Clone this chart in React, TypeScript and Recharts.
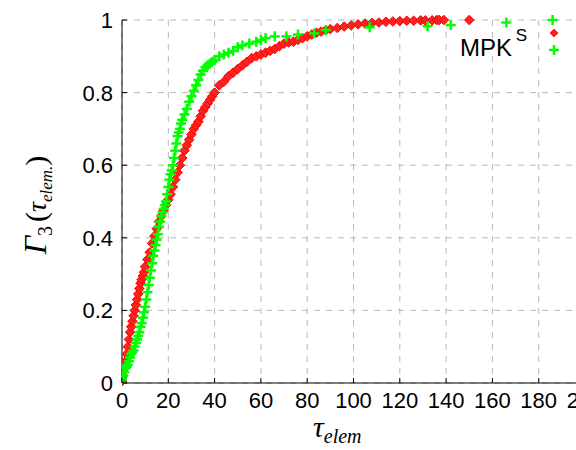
import { ScatterChart, Scatter, XAxis, YAxis, CartesianGrid, Legend } from 'recharts';

const sX = [
  0, 0.5, 1, 1.5, 2, 2.5, 3, 3.5, 4, 4.5, 5, 5.5, 6, 6.5, 7, 7.5, 8, 8.5, 9, 9.5, 10, 11, 12, 13, 14, 15, 16, 17, 18,
  19, 20, 21, 22, 23, 24, 25, 26, 27, 28, 29, 30, 31, 32, 33, 34, 35, 36, 37, 38, 39, 40, 42, 44, 46, 48, 50, 52, 54,
  56, 58, 60, 62, 64, 66, 68, 70, 72, 74, 76, 78, 80, 82, 84, 86, 88, 90, 93, 96, 99, 102, 105, 108, 111, 114, 117,
  120, 123, 126, 129, 131, 134, 136, 137, 139, 150,
];
const sY = [
  0.005, 0.02, 0.04, 0.06, 0.08, 0.1, 0.12, 0.14, 0.155, 0.17, 0.185, 0.2, 0.215, 0.23, 0.245, 0.26, 0.275, 0.285,
  0.295, 0.305, 0.32, 0.34, 0.36, 0.385, 0.405, 0.425, 0.445, 0.46, 0.475, 0.49, 0.505, 0.52, 0.54, 0.56, 0.58, 0.6,
  0.62, 0.64, 0.655, 0.67, 0.685, 0.7, 0.71, 0.72, 0.735, 0.75, 0.76, 0.77, 0.78, 0.79, 0.8, 0.82, 0.83, 0.845, 0.855,
  0.865, 0.875, 0.885, 0.895, 0.9, 0.905, 0.91, 0.915, 0.92, 0.928, 0.935, 0.938, 0.94, 0.945, 0.95, 0.955, 0.96,
  0.965, 0.968, 0.972, 0.975, 0.978, 0.982, 0.985, 0.988, 0.99, 0.992, 0.993, 0.995, 0.996, 0.997, 0.998, 0.998,
  0.999, 0.999, 0.999, 1, 1, 1, 1,
];

const mpkX = [
  0, 0.5, 1, 1.5, 2, 2.5, 3, 3.5, 4, 4.5, 5, 5.5, 6, 6.5, 7, 7.5, 8, 8.5, 9, 9.5, 10, 10.5, 11, 11.5, 12, 12.5, 13,
  13.5, 14, 14.5, 15, 15.5, 16, 16.5, 17, 17.5, 18, 18.5, 19, 19.5, 20, 20.5, 21, 21.5, 22, 22.5, 23, 23.5, 24, 24.5,
  25, 25.5, 26, 27, 28, 29, 30, 31, 32, 33, 34, 35, 36, 37, 38, 39, 40, 42, 44, 46, 48, 50, 52, 55, 58, 60, 62, 66,
  71, 76, 83, 88, 107, 132, 142, 166, 186,
];
const mpkY = [
  0.01, 0.02, 0.03, 0.04, 0.045, 0.05, 0.06, 0.07, 0.08, 0.085, 0.09, 0.1, 0.11, 0.12, 0.13, 0.14, 0.155, 0.165, 0.18,
  0.195, 0.21, 0.23, 0.25, 0.27, 0.29, 0.31, 0.33, 0.35, 0.365, 0.38, 0.395, 0.41, 0.43, 0.445, 0.46, 0.47, 0.48, 0.49,
  0.5, 0.52, 0.54, 0.56, 0.575, 0.585, 0.6, 0.62, 0.64, 0.66, 0.68, 0.69, 0.7, 0.715, 0.725, 0.74, 0.755, 0.775, 0.79,
  0.805, 0.82, 0.835, 0.85, 0.86, 0.87, 0.875, 0.88, 0.885, 0.89, 0.9, 0.905, 0.91, 0.915, 0.925, 0.93, 0.935, 0.94,
  0.945, 0.95, 0.955, 0.955, 0.96, 0.963, 0.972, 0.98, 0.983, 0.986, 0.993, 1,
];

const xTicks = [0, 20, 40, 60, 80, 100, 120, 140, 160, 180, 200];
const yTicks = [0, 0.2, 0.4, 0.6, 0.8, 1];
const seriesNames = ['S', 'MPK'];

const sData = sX.map((x, i) => ({ x, y: sY[i] }));
const mpkData = mpkX.map((x, i) => ({ x, y: mpkY[i] }));

const tickFont = { fontFamily: '"Liberation Sans", Arial, sans-serif', fontSize: 22, fill: '#000' };
const serif = '"Liberation Serif", "DejaVu Serif", serif';

const Diamond = ({ cx, cy, r = 4.8 }: any) => (
  <polygon
    points={`${cx},${cy - r} ${cx + r},${cy} ${cx},${cy + r} ${cx - r},${cy}`}
    fill="#ff2020"
    stroke="#ff0000"
    strokeWidth={1}
  />
);

const Plus = ({ cx, cy }: any) => {
  const r = 5;
  return (
    <g stroke="#00ff00" strokeWidth={2.5}>
      <line x1={cx - r} x2={cx + r} y1={cy} y2={cy} />
      <line x1={cx} x2={cx} y1={cy - r} y2={cy + r} />
    </g>
  );
};

const XTick = ({ x, y, payload }: any) => (
  <g>
    <line x1={x} x2={x} y1={y} y2={y - 5} stroke="#000" />
    <text x={x} y={y + 25} textAnchor="middle" {...tickFont}>
      {payload.value}
    </text>
  </g>
);

const TopTick = ({ x, y }: any) => <line x1={x} x2={x} y1={y} y2={y + 5} stroke="#000" />;

const YTick = ({ x, y, payload }: any) => {
  const v = payload.value;
  const label = v === 0 || v === 1 ? String(v) : v.toFixed(1);
  return (
    <g>
      <line x1={x} x2={x + 5} y1={y} y2={y} stroke="#000" />
      <text x={x - 9} y={y + 8} textAnchor="end" {...tickFont}>
        {label}
      </text>
    </g>
  );
};

const YTitle = () => (
  <text transform="translate(46,205) rotate(-90)" textAnchor="middle" fontFamily={serif} fill="#000">
    <tspan fontStyle="italic" fontSize={32}>
      Γ
    </tspan>
    <tspan fontSize={20} dy={6}>
      3
    </tspan>
    <tspan fontSize={30} dy={-6} dx={4}>
      (
    </tspan>
    <tspan fontStyle="italic" fontSize={28}>
      τ
    </tspan>
    <tspan fontStyle="italic" fontSize={17} dy={6}>
      elem.
    </tspan>
    <tspan fontSize={30} dy={-6}>
      )
    </tspan>
  </text>
);

const XTitle = () => (
  <text x={313} y={437} fontFamily={serif} fill="#000">
    <tspan fontStyle="italic" fontSize={30}>
      τ
    </tspan>
    <tspan fontStyle="italic" fontSize={20} dy={6}>
      elem
    </tspan>
  </text>
);

const LegendBox = () => (
  <svg width={150} height={50}>
    <text x={87} y={20} textAnchor="end" fontFamily={tickFont.fontFamily} fontSize={17}>
      {seriesNames[0]}
    </text>
    <text x={72} y={35} textAnchor="end" fontFamily={tickFont.fontFamily} fontSize={24}>
      {seriesNames[1]}
    </text>
    <Diamond cx={114} cy={12} r={3.8} />
    <Plus cx={114} cy={29} />
  </svg>
);

export default function App() {
  return (
    <div style={{ position: 'absolute', left: 0, top: 0, width: 576, height: 450, overflow: 'hidden', background: '#fff' }}>
      <ScatterChart width={600} height={450} margin={{ top: 20, right: 15, bottom: 0, left: 0 }}>
        <CartesianGrid strokeDasharray="6 6" stroke="#b8b8b8" />
        <XAxis
          type="number"
          dataKey="x"
          domain={[0, 200]}
          ticks={xTicks}
          allowDataOverflow
          height={67}
          tickSize={0}
          tickMargin={0}
          tickLine={false}
          tick={<XTick />}
          axisLine={{ stroke: '#000' }}
          label={{ content: () => <XTitle /> }}
        />
        <XAxis
          xAxisId="top"
          orientation="top"
          type="number"
          domain={[0, 200]}
          ticks={xTicks}
          height={0}
          tickSize={0}
          tickMargin={0}
          tickLine={false}
          tick={<TopTick />}
          axisLine={{ stroke: '#000' }}
        />
        <YAxis
          type="number"
          dataKey="y"
          domain={[0, 1]}
          ticks={yTicks}
          width={122}
          tickSize={0}
          tickMargin={0}
          tickLine={false}
          tick={<YTick />}
          axisLine={{ stroke: '#000' }}
          label={{ content: () => <YTitle /> }}
        />
        <Legend
          layout="horizontal"
          verticalAlign="middle"
          align="center"
          content={() => <LegendBox />}
          wrapperStyle={{ position: 'absolute', left: 440, top: 21, width: 150, height: 50 }}
        />
        <Scatter name={seriesNames[0]} data={sData} shape={<Diamond />} isAnimationActive={false} />
        <Scatter name={seriesNames[1]} data={mpkData} shape={<Plus />} isAnimationActive={false} />
      </ScatterChart>
    </div>
  );
}
